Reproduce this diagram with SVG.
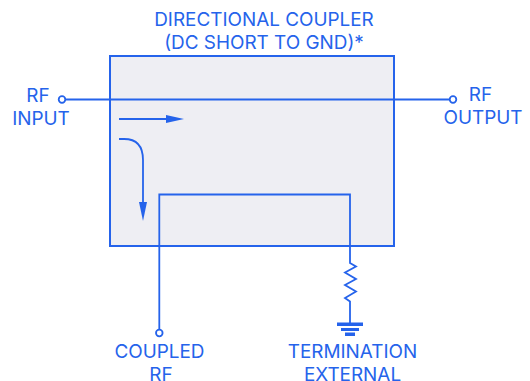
<svg xmlns="http://www.w3.org/2000/svg" width="530" height="381" viewBox="0 0 530 381">
<style>
text{font-family:Inter,"Liberation Sans",sans-serif;font-size:18.9px;fill:#2563EB;text-anchor:middle}
.w{fill:none;stroke:#2563EB;stroke-width:1.8}
.t{fill:#fff;stroke:#2563EB;stroke-width:1.8}
.h{fill:#2563EB}
</style>
<rect width="530" height="381" fill="#fff"/>
<g id="coupler"><rect x="110" y="56" width="284" height="190" fill="#EEEEF3" stroke="#2563EB" stroke-width="2"/>
<text x="264" y="26">DIRECTIONAL COUPLER</text><text x="264" y="49">(DC SHORT TO GND)*</text></g>
<g id="connectors">
<path class="w" d="M65 99.500H449"/>
<path class="w" d="M159.300 329V194.500H350V263L356 266.500L345 272.500L356 279L345 285L356 291.500L345 298L350 301.500V323"/>
<path class="w" d="M119 119H170"/>
<path class="h" d="M166 115L184 119L166 123Z"/>
<path class="w" d="M119 139H124Q143 139 143 160V205"/>
<path class="h" d="M139 202H147L143 221Z"/>
</g>
<g id="rf-input"><circle class="t" cx="62" cy="99.500" r="3.300"/><text x="38" y="102">RF</text><text x="41" y="125">INPUT</text></g>
<g id="rf-output"><circle class="t" cx="453" cy="99.500" r="3.300"/><text x="480.500" y="101">RF</text><text x="483" y="124">OUTPUT</text></g>
<g id="coupled-rf"><circle class="t" cx="159.300" cy="333" r="3.300"/><text x="159.500" y="358">COUPLED</text><text x="161" y="380.500">RF</text></g>
<g id="termination"><path class="h" d="M337 322.500H363V326H337ZM341 328H359V331H341ZM345 332.500H355V336H345Z"/>
<text x="352.500" y="358">TERMINATION</text><text x="352.500" y="380.500">EXTERNAL</text></g>
</svg>
